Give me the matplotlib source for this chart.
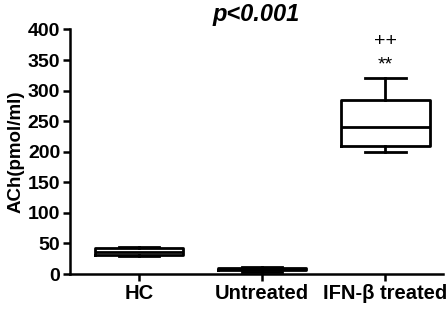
import matplotlib
matplotlib.use('Agg')
import matplotlib.pyplot as plt

plt.rcParams['font.family'] = ['Liberation Sans', 'DejaVu Sans']

groups = ['HC', 'Untreated', 'IFN-β treated']
whisker_low = [29, 4, 200]
q1 = [31, 6, 210]
median = [36, 8, 240]
q3 = [42, 10, 285]
whisker_high = [45, 12, 320]

yticks = [0, 50, 100, 150, 200, 250, 300, 350, 400]

stats = []
for i, g in enumerate(groups):
    stats.append({'label': g, 'whislo': whisker_low[i], 'q1': q1[i], 'med': median[i],
                  'q3': q3[i], 'whishi': whisker_high[i], 'fliers': []})

fig = plt.figure(figsize=(4.48, 3.10), dpi=100)
ax = fig.add_axes([0.156, 0.116, 0.833, 0.789])

lw = 2.0
ax.bxp(stats, positions=range(len(groups)), widths=0.72, showfliers=False,
       boxprops=dict(color='black', linewidth=lw),
       whiskerprops=dict(color='black', linewidth=lw),
       capprops=dict(color='black', linewidth=lw),
       medianprops=dict(color='black', linewidth=lw),
       capwidths=0.33)

# significance marks above the IFN-β box
ax.text(2, 342, '**', ha='center', va='center', fontsize=14)
ax.text(2, 381, '++', ha='center', va='center', fontsize=14)

ax.set_xlim(-0.56, 2.47)
ax.set_ylim(0, 400)
ax.set_yticks(yticks)
ax.set_xticks(range(len(groups)))
ax.set_xticklabels(groups, fontsize=14.5, fontweight='bold')
for t in ax.get_yticklabels():
    t.set_fontsize(14)
    t.set_fontweight('bold')
ax.set_ylabel('ACh(pmol/ml)', fontsize=13.5, fontweight='bold', labelpad=2)
ax.set_title('p<0.001', fontsize=17, fontweight='bold', style='italic', pad=6)

ax.spines['top'].set_visible(False)
ax.spines['right'].set_visible(False)
ax.spines['left'].set_linewidth(1.8)
ax.spines['bottom'].set_linewidth(1.8)
ax.tick_params(axis='both', width=1.8, length=5, pad=2)

fig.savefig('out.png', dpi=100)
